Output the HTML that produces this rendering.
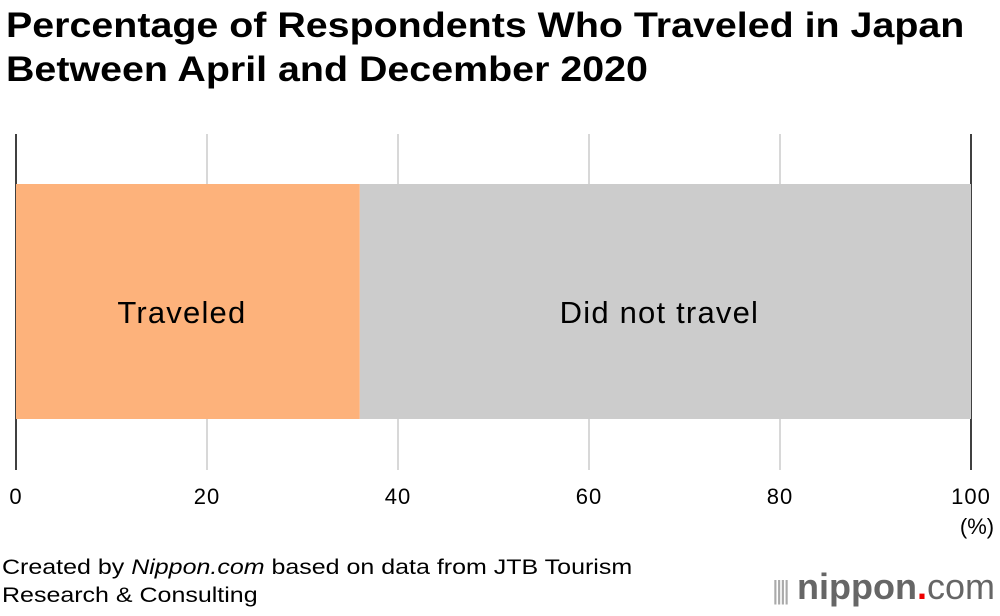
<!DOCTYPE html>
<html><head><meta charset="utf-8"><style>
body{margin:0;width:1000px;height:616px;background:#fff;font-family:"Liberation Sans",sans-serif;position:relative;overflow:hidden}
.t{position:absolute;left:6px;top:4px;font-size:35px;font-weight:bold;line-height:44px;color:#000;transform-origin:0 0;transform:scaleX(1.125);white-space:nowrap}
.src{position:absolute;left:2px;top:554px;font-size:21px;line-height:28px;color:#000;transform-origin:0 0;transform:scaleX(1.19);white-space:nowrap}
.logo{position:absolute;left:772px;top:566px;font-size:36px;color:#666;font-weight:bold;white-space:nowrap}
</style></head><body>
<div class="t">Percentage of Respondents Who Traveled in Japan<br>Between April and December 2020</div>
<svg id="c" width="1000" height="616" style="position:absolute;left:0;top:0"></svg>
<div class="src">Created by <i>Nippon.com</i> based on data from JTB Tourism<br>Research &amp; Consulting</div>
<div class="logo"><span style="font-size:26px;color:#aaa;font-weight:normal;letter-spacing:-3px">||||</span> nippon<span style="color:#e00">.</span><span style="font-weight:normal">com</span></div>
<script>
const categories=["Traveled","Did not travel"];
const values=[36,64];
const colors=["#fdb27b","#cccccc"];
const ticks=[0,20,40,60,80,100];
const svg=document.getElementById('c');
const NS="http://www.w3.org/2000/svg";
const x=v=>16+v*9.55;
function mk(t,a){const e=document.createElementNS(NS,t);for(const k in a)e.setAttribute(k,a[k]);svg.appendChild(e);return e;}
ticks.forEach(v=>{
 const l=mk('line',{x1:x(v),x2:x(v),y1:134,y2:470,stroke:(v==0||v==100)?'#000':'#ccc','stroke-width':1.5});
 
 
 const t=mk('text',{x:x(v),y:504,'text-anchor':'middle','font-size':22,'letter-spacing':1,'font-family':'Liberation Sans'});
 t.textContent=v;
 
 
});
const u=mk('text',{x:977,y:534,'text-anchor':'middle','font-size':22,'font-family':'Liberation Sans'});
u.textContent='(%)';


let acc=0;
values.forEach((v,i)=>{
 const r=mk('rect',{x:x(acc),y:184,width:x(acc+v)-x(acc),height:235,fill:colors[i]});
 
 
 const t=mk('text',{x:(x(acc)+x(acc+v))/2-6,y:323,'text-anchor':'middle','font-size':31,'letter-spacing':1.2,'font-family':'Liberation Sans'});
 t.textContent=categories[i];
 
 
 acc+=v;
});
</script>
</body></html>
